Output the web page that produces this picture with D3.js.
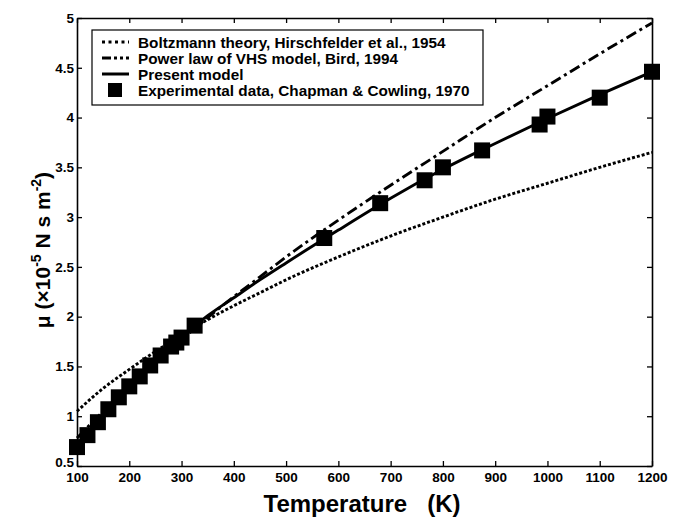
<!DOCTYPE html>
<html>
<head>
<meta charset="utf-8">
<script src="https://cdn.jsdelivr.net/npm/d3@7"></script>
<style>
  body { margin: 0; background: #fff; }
  svg { display: block; font-family: "Liberation Sans", Arial, sans-serif; font-weight: bold; }
</style>
</head>
<body>
<div id="graph"></div>
<script>
// temperature grid for the curves (K)
const curveT = [100, 150, 200, 250, 300, 350, 400, 450, 500, 600, 700, 800, 900, 1000, 1100, 1200];
// Boltzmann theory, Hirschfelder et al.
const boltzmann = [1.05, 1.28, 1.47, 1.65, 1.81, 1.97, 2.11, 2.24, 2.37, 2.60, 2.81, 3.00, 3.18, 3.34, 3.50, 3.65];
// power law of VHS model, Bird
const vhs = [0.78, 1.05, 1.31, 1.55, 1.77, 1.99, 2.20, 2.40, 2.60, 2.97, 3.32, 3.66, 4.00, 4.32, 4.64, 4.95];
// present model
const present = [0.69, 1.01, 1.30, 1.56, 1.80, 2.01, 2.19, 2.37, 2.54, 2.87, 3.19, 3.48, 3.74, 3.99, 4.23, 4.46];

// experimental data, Chapman & Cowling
const expT = [100, 120, 140, 160, 180, 200, 220, 240, 260, 280, 290, 300, 325, 573, 680, 765, 800, 875, 985, 1000, 1100, 1200];
const expMu = [0.69, 0.81, 0.94, 1.07, 1.19, 1.30, 1.40, 1.51, 1.61, 1.70, 1.74, 1.79, 1.91, 2.79, 3.14, 3.37, 3.50, 3.67, 3.93, 4.01, 4.20, 4.46];

const xTicks = [100, 200, 300, 400, 500, 600, 700, 800, 900, 1000, 1100, 1200];
const yTicks = [0.5, 1, 1.5, 2, 2.5, 3, 3.5, 4, 4.5, 5];

const legendLabels = [
  "Boltzmann theory, Hirschfelder et al., 1954",
  "Power law of VHS model, Bird, 1994",
  "Present model",
  "Experimental data, Chapman & Cowling, 1970"
];

const W = 683, H = 519;
const mLeft = 77, mRight = 652, mTop = 18, mBottom = 466;

const svg = d3.select("#graph").append("svg")
  .attr("width", W)
  .attr("height", H);

const x = d3.scaleLinear().domain([100, 1200]).range([mLeft, mRight]);
const y = d3.scaleLinear().domain([0.5, 5]).range([mBottom, mTop]);

// axes, ticks pointing inward on all four sides
const fmt = d => String(d);
const styleAxis = g => {
  g.selectAll(".domain").attr("stroke", "#000").attr("stroke-width", 1.6);
  g.selectAll(".tick line").attr("stroke", "#000").attr("stroke-width", 1.3);
  g.selectAll("text").attr("font-size", 13.5).attr("font-weight", "bold").attr("font-family", "Liberation Sans, Arial, sans-serif").attr("fill", "#000");
};

svg.append("g").attr("transform", `translate(0,${mBottom})`)
  .call(d3.axisBottom(x).tickValues(xTicks).tickFormat(fmt).tickSizeInner(-5).tickSizeOuter(0).tickPadding(6))
  .call(styleAxis);
svg.append("g").attr("transform", `translate(0,${mTop})`)
  .call(d3.axisTop(x).tickValues(xTicks).tickFormat("").tickSizeInner(-5).tickSizeOuter(0))
  .call(styleAxis);
const yAx = svg.append("g").attr("transform", `translate(${mLeft},0)`)
  .call(d3.axisLeft(y).tickValues(yTicks).tickFormat(fmt).tickSizeInner(-5).tickSizeOuter(0).tickPadding(3))
  .call(styleAxis);
// the lowest label sits a little higher, clear of "100"
yAx.selectAll(".tick text").filter(d => d === 0.5).attr("dy", "0.05em");
svg.append("g").attr("transform", `translate(${mRight},0)`)
  .call(d3.axisRight(y).tickValues(yTicks).tickFormat("").tickSizeInner(-5).tickSizeOuter(0))
  .call(styleAxis);

// curves
const line = d3.line().curve(d3.curveMonotoneX);
const styles = [
  { data: boltzmann, dash: "3,2", legDash: "3,3.5" },
  { data: vhs, dash: "11,4,3,4", legDash: "9,3,3,3,3,3" },
  { data: present, dash: null, legDash: null }
];
styles.forEach(s => {
  svg.append("path")
    .datum(curveT.map((t, i) => [x(t), y(s.data[i])]))
    .attr("fill", "none")
    .attr("stroke", "#000")
    .attr("stroke-width", 2.9)
    .attr("stroke-dasharray", s.dash)
    .attr("d", line);
});

// experimental markers
const ms = 16;
svg.append("g").selectAll("rect")
  .data(expT.map((t, i) => [t, expMu[i]]))
  .join("rect")
  .attr("x", d => x(d[0]) - ms / 2)
  .attr("y", d => y(d[1]) - ms / 2)
  .attr("width", ms)
  .attr("height", ms)
  .attr("fill", "#000");

// legend
const leg = svg.append("g");
leg.append("rect")
  .attr("x", 92).attr("y", 30).attr("width", 391).attr("height", 75)
  .attr("fill", "#fff").attr("stroke", "#000").attr("stroke-width", 1.2);
const rowY = [42, 58, 74, 90];
styles.forEach((s, i) => {
  leg.append("line")
    .attr("x1", 102).attr("x2", 129).attr("y1", rowY[i]).attr("y2", rowY[i])
    .attr("stroke", "#000").attr("stroke-width", 3)
    .attr("stroke-dasharray", s.legDash);
});
leg.append("rect")
  .attr("x", 108).attr("y", rowY[3] - 7).attr("width", 14).attr("height", 14)
  .attr("fill", "#000");
legendLabels.forEach((t, i) => {
  leg.append("text")
    .attr("x", 138).attr("y", rowY[i])
    .attr("dy", "0.36em")
    .attr("font-size", 15.3)
    .text(t);
});

// axis titles
svg.append("text")
  .attr("x", 362).attr("y", 512)
  .attr("text-anchor", "middle")
  .attr("font-size", 24)
  .text("Temperature\u00a0\u00a0\u00a0(K)");

const yt = svg.append("text")
  .attr("transform", "translate(50,250) rotate(-90)")
  .attr("text-anchor", "middle")
  .attr("font-size", 21);
yt.append("tspan").text("\u03bc  (\u00d710");
yt.append("tspan").attr("font-size", 14).attr("dy", -9).text("-5");
yt.append("tspan").attr("dy", 9).text(" N s m");
yt.append("tspan").attr("font-size", 14).attr("dy", -9).text("-2");
yt.append("tspan").attr("dy", 9).text(")");
</script>
</body>
</html>
